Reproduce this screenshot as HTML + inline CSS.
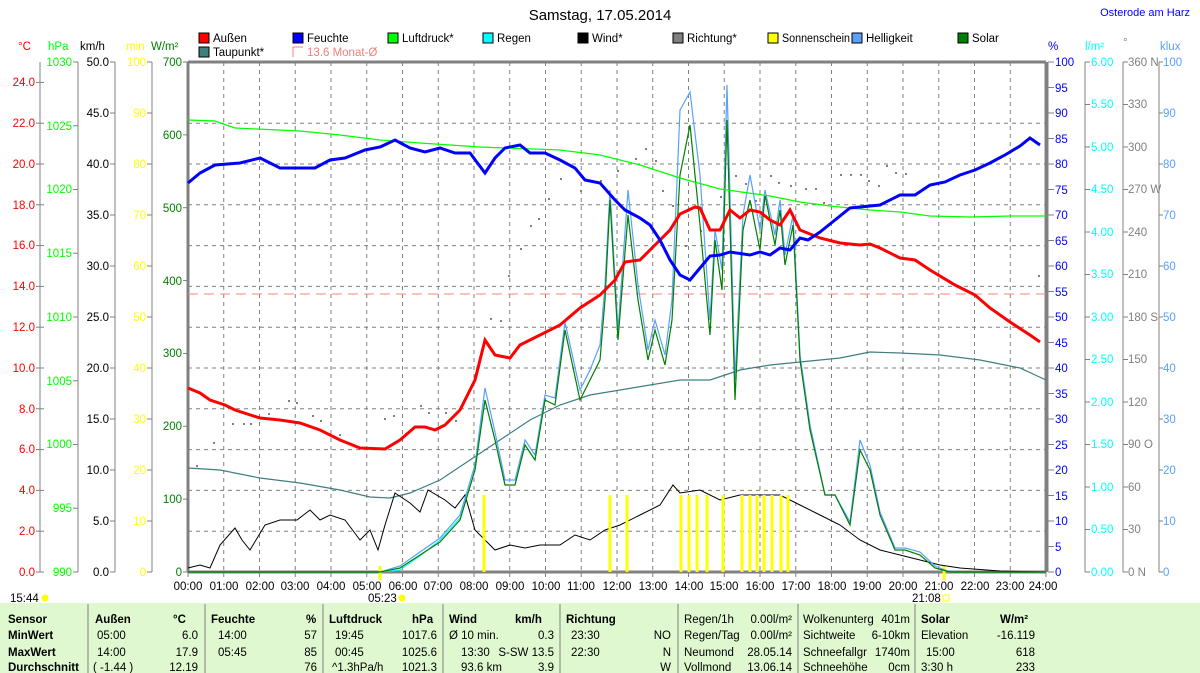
<!DOCTYPE html>
<html><head><meta charset="utf-8"><style>
body{margin:0;background:#fff;}
svg{display:block;font-family:"Liberation Sans",sans-serif;}
.t{font-size:11.5px;}
</style></head><body>
<svg width="1200" height="673" viewBox="0 0 1200 673" xmlns="http://www.w3.org/2000/svg">
<rect width="1200" height="673" fill="#fff"/>
<text x="600" y="20" font-size="15" text-anchor="middle">Samstag, 17.05.2014</text>
<text x="1190" y="16" font-size="11" fill="#0000ff" text-anchor="end">Osterode am Harz</text>
<!-- legend -->
<g font-size="11.5">
<rect x="199" y="33" width="10" height="10" fill="#f00" stroke="#000"/><text x="213" y="42">Außen</text>
<rect x="293" y="33" width="10" height="10" fill="#00f" stroke="#000"/><text x="307" y="42">Feuchte</text>
<rect x="388" y="33" width="10" height="10" fill="#0f0" stroke="#000"/><text x="402" y="42">Luftdruck*</text>
<rect x="483" y="33" width="10" height="10" fill="#0ff" stroke="#000"/><text x="497" y="42">Regen</text>
<rect x="578" y="33" width="10" height="10" fill="#000" stroke="#000"/><text x="592" y="42">Wind*</text>
<rect x="673" y="33" width="10" height="10" fill="#808080" stroke="#000"/><text x="687" y="42">Richtung*</text>
<rect x="768" y="33" width="10" height="10" fill="#ff0" stroke="#000"/><text x="782" y="42" textLength="68" lengthAdjust="spacingAndGlyphs">Sonnenschein</text>
<rect x="852" y="33" width="10" height="10" fill="#5aa0ff" stroke="#000"/><text x="866" y="42">Helligkeit</text>
<rect x="958" y="33" width="10" height="10" fill="#008000" stroke="#000"/><text x="972" y="42">Solar</text>
<rect x="199" y="47" width="10" height="10" fill="#3f7f7f" stroke="#000"/><text x="213" y="56">Taupunkt*</text>
<path d="M303 47 H293 V57" fill="none" stroke="#f08080"/><text x="307" y="56" fill="#f08080">13.6 Monat-Ø</text>
</g>
<!-- axis units -->
<g font-size="11.5">
<text x="18" y="50" fill="#f00">°C</text><text x="48" y="50" fill="#0f0">hPa</text><text x="80" y="50">km/h</text>
<text x="126" y="50" fill="#ff0">min</text><text x="151" y="50" fill="#008000">W/m²</text>
<text x="1048" y="50" fill="#00f">%</text><text x="1085" y="50" fill="#0ff">l/m²</text><text x="1123" y="46" fill="#808080">°</text><text x="1160" y="50" fill="#5aa0ff">klux</text>
</g>
<g id="grid" stroke="#808080" stroke-dasharray="4,4" stroke-width="1"></g>
<g id="axes" stroke="#808080" stroke-width="1"></g>
<!-- plot frame -->
<path d="M188 62 H1046 M188 572 H1046" stroke="#808080" stroke-width="3"/>
<path d="M188 62 V572 M1046 62 V572" stroke="#808080" stroke-width="3"/>
<!-- left labels -->
<g class="t" text-anchor="end" fill="#f00">
<text x="35" y="86">24.0</text><text x="35" y="127">22.0</text><text x="35" y="168">20.0</text><text x="35" y="209">18.0</text><text x="35" y="249">16.0</text><text x="35" y="290">14.0</text><text x="35" y="331">12.0</text><text x="35" y="372">10.0</text><text x="35" y="413">8.0</text><text x="35" y="453">6.0</text><text x="35" y="494">4.0</text><text x="35" y="535">2.0</text><text x="35" y="576">0.0</text></g>
<g class="t" text-anchor="end" fill="#0f0">
<text x="72" y="66">1030</text><text x="72" y="130">1025</text><text x="72" y="193">1020</text><text x="72" y="257">1015</text><text x="72" y="321">1010</text><text x="72" y="385">1005</text><text x="72" y="448">1000</text><text x="72" y="512">995</text><text x="72" y="576">990</text></g>
<g class="t" text-anchor="end" fill="#000">
<text x="109" y="66">50.0</text><text x="109" y="117">45.0</text><text x="109" y="168">40.0</text><text x="109" y="219">35.0</text><text x="109" y="270">30.0</text><text x="109" y="321">25.0</text><text x="109" y="372">20.0</text><text x="109" y="423">15.0</text><text x="109" y="474">10.0</text><text x="109" y="525">5.0</text><text x="109" y="576">0.0</text></g>
<g class="t" text-anchor="end" fill="#ff0">
<text x="146" y="66">100</text><text x="146" y="117">90</text><text x="146" y="168">80</text><text x="146" y="219">70</text><text x="146" y="270">60</text><text x="146" y="321">50</text><text x="146" y="372">40</text><text x="146" y="423">30</text><text x="146" y="474">20</text><text x="146" y="525">10</text><text x="146" y="576">0</text></g>
<g class="t" text-anchor="end" fill="#008000">
<text x="182" y="66">700</text><text x="182" y="139">600</text><text x="182" y="212">500</text><text x="182" y="285">400</text><text x="182" y="357">300</text><text x="182" y="430">200</text><text x="182" y="503">100</text><text x="182" y="576">0</text></g>
<!-- right labels -->
<g class="t" fill="#00f">
<text x="1055" y="66">100</text><text x="1055" y="92">95</text><text x="1055" y="117">90</text><text x="1055" y="143">85</text><text x="1055" y="168">80</text><text x="1055" y="194">75</text><text x="1055" y="219">70</text><text x="1055" y="245">65</text><text x="1055" y="270">60</text><text x="1055" y="296">55</text><text x="1055" y="321">50</text><text x="1055" y="347">45</text><text x="1055" y="372">40</text><text x="1055" y="398">35</text><text x="1055" y="423">30</text><text x="1055" y="449">25</text><text x="1055" y="474">20</text><text x="1055" y="500">15</text><text x="1055" y="525">10</text><text x="1055" y="551">5</text><text x="1055" y="576">0</text></g>
<g class="t" fill="#0ff">
<text x="1091" y="66">6.00</text><text x="1091" y="108">5.50</text><text x="1091" y="151">5.00</text><text x="1091" y="193">4.50</text><text x="1091" y="236">4.00</text><text x="1091" y="278">3.50</text><text x="1091" y="321">3.00</text><text x="1091" y="363">2.50</text><text x="1091" y="406">2.00</text><text x="1091" y="448">1.50</text><text x="1091" y="491">1.00</text><text x="1091" y="533">0.50</text><text x="1091" y="576">0.00</text></g>
<g class="t" fill="#808080">
<text x="1128" y="66">360 N</text><text x="1128" y="108">330</text><text x="1128" y="151">300</text><text x="1128" y="193">270 W</text><text x="1128" y="236">240</text><text x="1128" y="278">210</text><text x="1128" y="321">180 S</text><text x="1128" y="363">150</text><text x="1128" y="406">120</text><text x="1128" y="448">90 O</text><text x="1128" y="491">60</text><text x="1128" y="533">30</text><text x="1128" y="576">0 N</text></g>
<g class="t" fill="#5aa0ff">
<text x="1163" y="66">100</text><text x="1163" y="117">90</text><text x="1163" y="168">80</text><text x="1163" y="219">70</text><text x="1163" y="270">60</text><text x="1163" y="321">50</text><text x="1163" y="372">40</text><text x="1163" y="423">30</text><text x="1163" y="474">20</text><text x="1163" y="525">10</text><text x="1163" y="576">0</text></g>
<!-- x labels -->
<g class="t" text-anchor="middle">
<text x="188" y="590">00:00</text><text x="224" y="590">01:00</text><text x="260" y="590">02:00</text><text x="295" y="590">03:00</text><text x="331" y="590">04:00</text><text x="367" y="590">05:00</text><text x="403" y="590">06:00</text><text x="438" y="590">07:00</text><text x="474" y="590">08:00</text><text x="510" y="590">09:00</text><text x="546" y="590">10:00</text><text x="581" y="590">11:00</text><text x="617" y="590">12:00</text><text x="653" y="590">13:00</text><text x="689" y="590">14:00</text><text x="724" y="590">15:00</text><text x="760" y="590">16:00</text><text x="796" y="590">17:00</text><text x="832" y="590">18:00</text><text x="867" y="590">19:00</text><text x="903" y="590">20:00</text><text x="939" y="590">21:00</text><text x="975" y="590">22:00</text><text x="1010" y="590">23:00</text><text x="1043" y="590">24:00</text>
</g>
<g class="t"><text x="10" y="602">15:44</text><text x="368" y="602">05:23</text><text x="912" y="602">21:08</text></g>
<circle cx="45" cy="598" r="3.5" fill="#ff0"/><circle cx="402" cy="598" r="3.5" fill="#ff0"/><rect x="943" y="595" width="6" height="6" fill="none" stroke="#ff0"/>
<path d="M380 566 V580 M944 566 V580" stroke="#ff0" stroke-width="3"/>
<!-- Monat line -->
<path d="M188 294 H1046" stroke="#ff8080" stroke-dasharray="10,6" stroke-width="1"/>
<!-- direction dots -->
<g fill="#808080">
<rect x="196" y="465" width="2" height="2"/><rect x="213" y="442" width="2" height="2"/><rect x="232" y="423" width="2" height="2"/><rect x="243" y="423" width="2" height="2"/><rect x="250" y="423" width="2" height="2"/><rect x="268" y="413" width="2" height="2"/><rect x="288" y="400" width="2" height="2"/><rect x="296" y="402" width="2" height="2"/><rect x="312" y="415" width="2" height="2"/><rect x="320" y="420" width="2" height="2"/><rect x="339" y="434" width="2" height="2"/><rect x="384" y="418" width="2" height="2"/><rect x="393" y="415" width="2" height="2"/><rect x="420" y="405" width="2" height="2"/><rect x="428" y="412" width="2" height="2"/><rect x="445" y="412" width="2" height="2"/><rect x="455" y="420" width="2" height="2"/><rect x="490" y="318" width="2" height="2"/><rect x="500" y="320" width="2" height="2"/><rect x="508" y="275" width="2" height="2"/><rect x="520" y="248" width="2" height="2"/><rect x="530" y="225" width="2" height="2"/><rect x="538" y="218" width="2" height="2"/><rect x="548" y="198" width="2" height="2"/><rect x="560" y="178" width="2" height="2"/><rect x="580" y="190" width="2" height="2"/><rect x="600" y="180" width="2" height="2"/><rect x="617" y="170" width="2" height="2"/><rect x="635" y="158" width="2" height="2"/><rect x="645" y="148" width="2" height="2"/><rect x="655" y="160" width="2" height="2"/><rect x="662" y="190" width="2" height="2"/><rect x="672" y="205" width="2" height="2"/><rect x="685" y="245" width="2" height="2"/><rect x="700" y="230" width="2" height="2"/><rect x="720" y="196" width="2" height="2"/><rect x="735" y="175" width="2" height="2"/><rect x="745" y="183" width="2" height="2"/><rect x="755" y="200" width="2" height="2"/><rect x="770" y="175" width="2" height="2"/><rect x="778" y="182" width="2" height="2"/><rect x="790" y="185" width="2" height="2"/><rect x="805" y="188" width="2" height="2"/><rect x="815" y="188" width="2" height="2"/><rect x="823" y="202" width="2" height="2"/><rect x="840" y="174" width="2" height="2"/><rect x="850" y="174" width="2" height="2"/><rect x="860" y="174" width="2" height="2"/><rect x="868" y="180" width="2" height="2"/><rect x="878" y="185" width="2" height="2"/><rect x="886" y="165" width="2" height="2"/><rect x="895" y="172" width="2" height="2"/><rect x="905" y="173" width="2" height="2"/><rect x="1038" y="275" width="2" height="2"/>
</g>
<!-- series -->
<polyline fill="none" stroke="#3f7f7f" stroke-width="1.2" points="188,468 220,470 260,478 300,483 340,490 370,497 390,498 410,493 440,480 470,460 500,440 530,420 560,405 590,395 620,390 650,385 680,380 710,380 740,370 770,365 800,362 840,358 870,352 900,353 940,355 980,360 1020,368 1046,380"/>
<polyline fill="none" stroke="#000" stroke-width="1" points="188,568 200,565 210,568 220,545 235,528 242,540 250,550 265,525 280,520 297,520 310,510 320,520 330,515 345,520 360,540 370,530 378,550 385,525 395,493 410,503 420,512 428,490 445,500 455,508 465,495 475,530 485,540 495,550 510,545 525,548 540,545 560,545 575,535 590,540 605,530 620,525 640,515 660,505 673,485 680,493 700,490 720,500 740,495 760,495 780,495 800,505 820,515 840,525 860,540 880,550 900,555 920,560 940,565 960,568 1000,571 1046,572"/>
<polyline fill="none" stroke="#5aa0ff" stroke-width="1.2" points="188,572 380,572 400,566 420,552 440,538 460,515 475,465 485,388 495,432 505,480 515,480 525,440 535,455 545,395 555,398 565,322 580,390 590,370 600,345 605,285 610,190 618,330 628,190 638,285 648,350 655,320 665,355 672,300 680,110 690,92 700,175 710,320 715,230 722,270 727,85 735,380 743,215 750,175 760,230 765,190 775,235 780,200 785,255 793,215 800,355 810,425 825,495 835,495 850,522 860,440 870,465 880,512 895,548 905,548 920,552 935,566 950,572 1046,572"/>
<polyline fill="none" stroke="#0ff" stroke-width="1" points="380,572 400,570 420,556 440,540 460,518 475,470 485,400 495,440 505,485 515,485 525,445 535,460 545,400"/>
<polyline fill="none" stroke="#008000" stroke-width="1.2" points="188,572 380,572 400,568 420,555 440,542 460,520 475,470 485,400 495,440 505,485 515,485 525,445 535,460 545,400 555,405 565,330 580,400 590,380 600,360 605,300 610,200 618,340 628,215 638,300 648,360 655,330 665,365 672,320 680,175 690,125 700,225 710,335 715,240 722,290 727,120 735,400 743,230 750,200 760,250 765,195 775,245 780,210 785,265 793,225 800,360 810,430 825,495 835,495 850,525 860,450 870,470 880,515 895,550 905,550 920,555 935,568 950,572 1046,572"/>
<polyline fill="none" stroke="#0f0" stroke-width="1.2" points="188,120 215,121 235,128 300,131 340,135 380,140 420,143 480,147 560,150 600,155 640,165 680,178 720,189 770,196 800,202 830,206 870,210 900,212 930,216 970,217 1010,216 1046,216"/>
<polyline fill="none" stroke="#f00" stroke-width="3" points="188,388 200,393 210,400 225,405 235,410 260,418 280,420 300,423 320,430 340,440 360,448 385,449 400,440 415,427 425,427 435,430 445,425 460,410 475,380 485,340 495,355 510,358 520,345 540,335 560,325 580,308 600,295 615,280 625,262 640,260 655,245 670,230 680,214 695,207 700,208 710,230 720,230 730,210 740,218 750,210 760,212 770,220 780,225 790,210 800,230 820,238 840,243 860,245 870,244 880,248 900,258 915,260 930,270 955,285 975,295 990,308 1010,322 1030,335 1040,342"/>
<polyline fill="none" stroke="#00f" stroke-width="3" points="188,183 200,173 215,165 240,163 260,158 280,168 315,168 330,160 345,158 365,150 380,147 395,140 410,148 425,152 440,148 455,153 470,153 485,173 495,158 505,148 520,145 530,153 545,153 560,160 575,168 585,180 600,183 615,200 625,210 640,218 650,225 660,240 670,260 680,275 690,280 700,268 710,256 720,255 730,252 750,255 760,252 770,255 780,248 790,250 800,238 808,240 820,232 835,220 850,208 880,205 900,195 915,195 930,185 945,182 960,175 975,170 990,163 1005,155 1020,146 1030,138 1040,145"/>
<!-- sunshine -->
<g stroke="#ff0" stroke-width="3"><path d="M484 495 V572 M610 495 V572 M627 495 V572 M681 495 V572 M689 495 V572 M697 495 V572 M707 495 V572 M723 495 V572 M742 495 V572 M750 495 V572 M757 495 V572 M764 495 V572 M772 495 V572 M781 495 V572 M788 495 V572"/></g>
<!-- table -->
<rect x="0" y="603" width="1200" height="70" fill="#e0f8d0"/>
<g stroke="#808080"><path d="M88 604 V673 M205 604 V673 M323 604 V673 M443 604 V673 M560 604 V673 M678 604 V673 M798 604 V673 M915 604 V673"/></g>
<g font-size="11.5">
<g font-weight="bold"><text x="8" y="623">Sensor</text><text x="8" y="639">MinWert</text><text x="8" y="656">MaxWert</text><text x="8" y="671">Durchschnitt</text>
<text x="95" y="623">Außen</text><text x="173" y="623">°C</text><text x="211" y="623">Feuchte</text><text x="306" y="623">%</text><text x="329" y="623">Luftdruck</text><text x="412" y="623">hPa</text><text x="449" y="623">Wind</text><text x="515" y="623">km/h</text><text x="566" y="623">Richtung</text><text x="921" y="623">Solar</text><text x="1000" y="623">W/m²</text></g>
<text x="97" y="639">05:00</text><text x="198" y="639" text-anchor="end">6.0</text><text x="218" y="639">14:00</text><text x="317" y="639" text-anchor="end">57</text><text x="335" y="639">19:45</text><text x="437" y="639" text-anchor="end">1017.6</text><text x="449" y="639">Ø 10 min.</text><text x="554" y="639" text-anchor="end">0.3</text><text x="571" y="639">23:30</text><text x="671" y="639" text-anchor="end">NO</text>
<text x="97" y="656">14:00</text><text x="198" y="656" text-anchor="end">17.9</text><text x="218" y="656">05:45</text><text x="317" y="656" text-anchor="end">85</text><text x="335" y="656">00:45</text><text x="437" y="656" text-anchor="end">1025.6</text><text x="461" y="656">13:30</text><text x="554" y="656" text-anchor="end">S-SW 13.5</text><text x="571" y="656">22:30</text><text x="671" y="656" text-anchor="end">N</text>
<text x="93" y="671">( -1.44 )</text><text x="198" y="671" text-anchor="end">12.19</text><text x="317" y="671" text-anchor="end">76</text><text x="332" y="671">^1.3hPa/h</text><text x="437" y="671" text-anchor="end">1021.3</text><text x="461" y="671">93.6 km</text><text x="554" y="671" text-anchor="end">3.9</text><text x="671" y="671" text-anchor="end">W</text>
<text x="684" y="623">Regen/1h</text><text x="792" y="623" text-anchor="end">0.00l/m²</text><text x="684" y="639">Regen/Tag</text><text x="792" y="639" text-anchor="end">0.00l/m²</text><text x="684" y="656">Neumond</text><text x="792" y="656" text-anchor="end">28.05.14</text><text x="684" y="671">Vollmond</text><text x="792" y="671" text-anchor="end">13.06.14</text>
<text x="803" y="623">Wolkenunterg</text><text x="910" y="623" text-anchor="end">401m</text><text x="803" y="639">Sichtweite</text><text x="910" y="639" text-anchor="end">6-10km</text><text x="803" y="656">Schneefallgr</text><text x="910" y="656" text-anchor="end">1740m</text><text x="803" y="671">Schneehöhe</text><text x="910" y="671" text-anchor="end">0cm</text>
<text x="921" y="639">Elevation</text><text x="1035" y="639" text-anchor="end">-16.119</text><text x="926" y="656">15:00</text><text x="1035" y="656" text-anchor="end">618</text><text x="921" y="671">3:30 h</text><text x="1035" y="671" text-anchor="end">233</text>
</g>
<script>
(function(){
var NS="http://www.w3.org/2000/svg";
function ln(g,x1,y1,x2,y2){var l=document.createElementNS(NS,"line");l.setAttribute("x1",x1);l.setAttribute("y1",y1);l.setAttribute("x2",x2);l.setAttribute("y2",y2);g.appendChild(l);}
var gr=document.getElementById("grid"),ax=document.getElementById("axes");
for(var h=1;h<24;h++){var x=188+h*35.75;ln(gr,x,62,x,572);}
for(var k=1;k<12;k++){var y=572-k*40.8;ln(gr,188,y,1046,y);}
[40,78,115,152].forEach(function(x){ln(ax,x,62,x,572);});
for(var i=0;i<=12;i++){var y=572-i*40.8;ln(ax,36,y,44,y);}
for(var i=0;i<=8;i++){var y=572-i*63.75;ln(ax,73,y,78,y);}
for(var i=0;i<=10;i++){var y=572-i*51;ln(ax,110,y,115,y);ln(ax,147,y,152,y);ln(ax,1159,y,1163,y);}
for(var i=0;i<=7;i++){var y=572-i*72.86;ln(ax,183,y,188,y);}
[1048,1085,1123,1159].forEach(function(x){ln(ax,x,62,x,572);});
for(var i=0;i<=20;i++){var y=572-i*25.5;ln(ax,1048,y,1054,y);}
for(var i=0;i<=12;i++){var y=572-i*42.5;ln(ax,1085,y,1090,y);ln(ax,1123,y,1128,y);}
for(var h=0;h<=24;h++){var x=188+h*35.75;ln(ax,x,572,x,577);}
})();
</script>
</svg>
</body></html>
